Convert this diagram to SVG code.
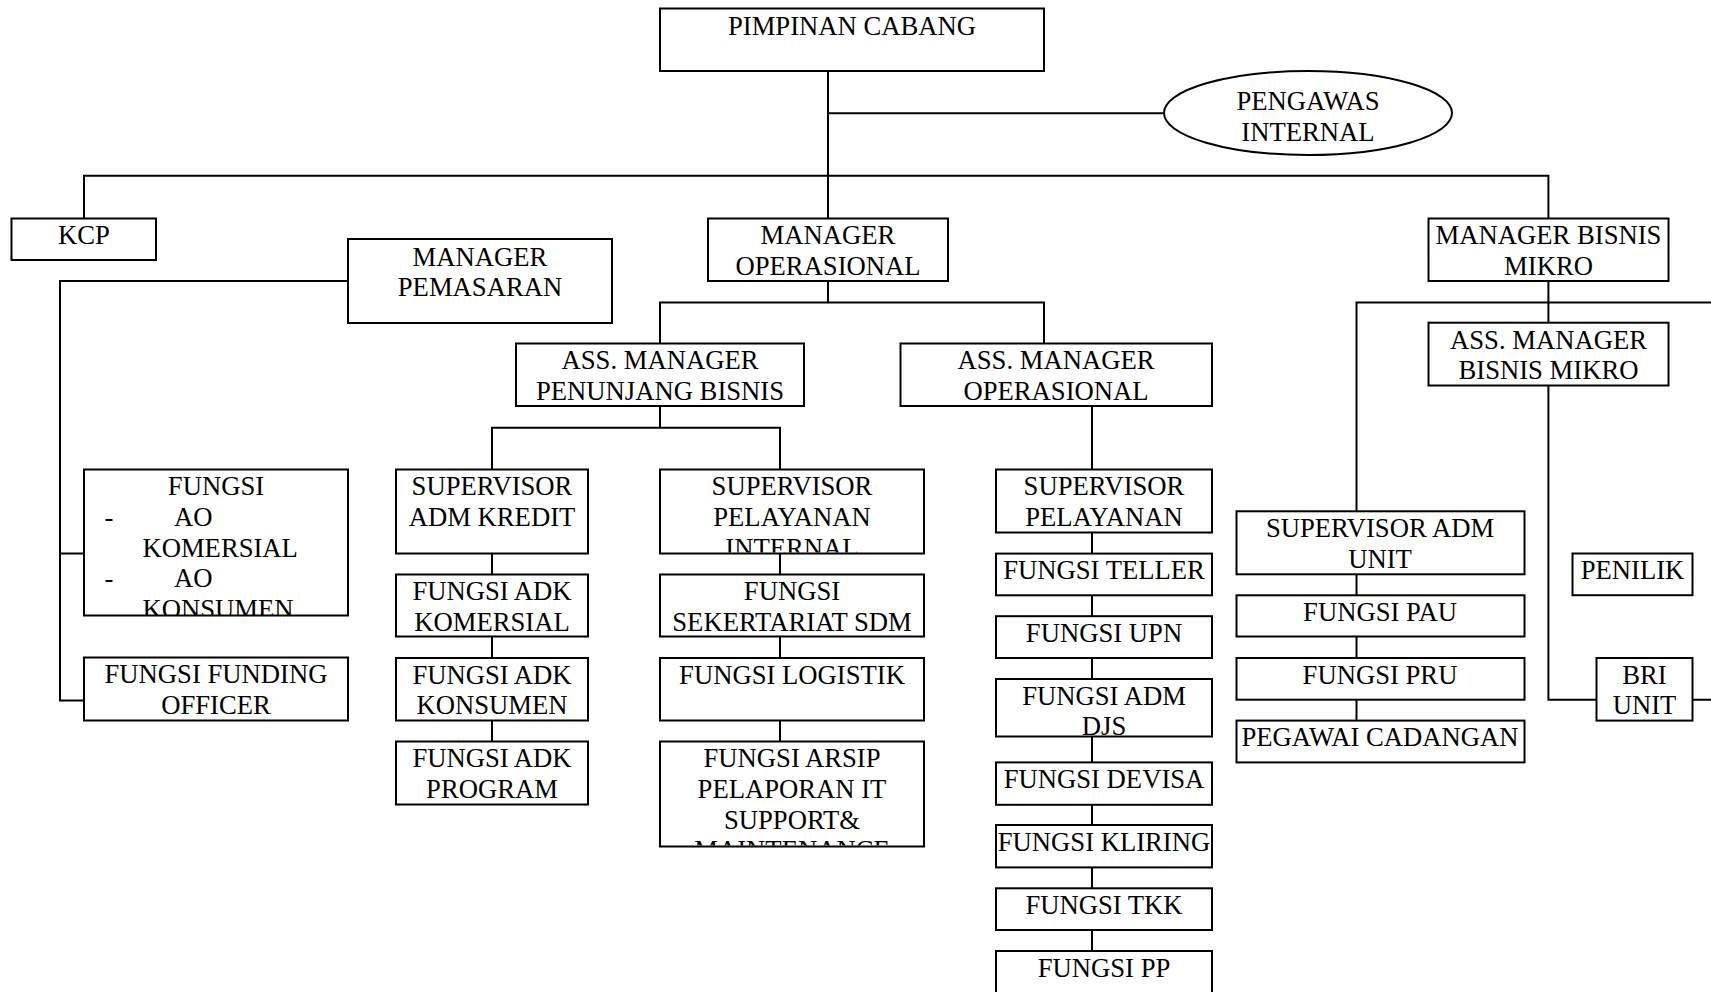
<svg xmlns="http://www.w3.org/2000/svg" width="1711" height="992" viewBox="0 0 1711 992">
<style>
.box{fill:#fff;stroke:#000;stroke-width:2}
.ln{fill:none;stroke:#000;stroke-width:2}
text{font-family:"Liberation Serif","Times New Roman",serif;font-size:26.67px;fill:#000}
.c{text-anchor:middle}
</style>
<defs>
<clipPath id="clipAO"><rect x="84" y="469.5" width="264" height="145.5"/></clipPath>
<clipPath id="clipSPI"><rect x="660" y="469.5" width="264" height="83"/></clipPath>
<clipPath id="clipARSIP"><rect x="660" y="741.5" width="264" height="104"/></clipPath>
<clipPath id="clipDJS"><rect x="996" y="679" width="216" height="57.5"/></clipPath>
</defs>
<rect width="1711" height="992" fill="#fff"/>
<g id="connectors">
<path class="ln" d="M828 71V218.5M828 113.2H1164M84 218.5V175.8H1548.4V218.5M348 281H60V700.4H84M60 553.6H84M828 281V302.4M660 343.5V302.4H1044V343.5M660 406V427.7M492 469.5V427.7H780V469.5M492 553.5V574.5M492 636.5V658M492 720.5V741.5M780 553.5V574.5M780 636.5V658M780 720.5V741.5M1092 406V469.5M1092 532.5V553.6M1092 595.3V616.2M1092 658V679M1092 736.5V762.4M1092 804.8V825M1092 867.4V888.3M1092 930V951M1548.4 281V322.7M1356.5 511.3V302.4H1711M1356.5 574.3V595.3M1356.5 636.5V658M1356.5 699.7V720.6M1548.4 385.5V699.7H1596.5M1692.5 699.7H1711"/>
</g>
<g id="pimpinan-cabang"><rect class="box" x="660" y="8.5" width="384" height="62.5"/><text class="c" x="852" y="35">PIMPINAN CABANG</text></g>
<g id="pengawas-internal"><ellipse class="box" cx="1308" cy="113" rx="144" ry="42"/><text class="c" x="1308" y="110">PENGAWAS</text><text class="c" x="1308" y="140.5">INTERNAL</text></g>
<g id="kcp"><rect class="box" x="11.5" y="218.5" width="144.5" height="41.5"/><text class="c" x="84" y="244.2">KCP</text></g>
<g id="manager-pemasaran"><rect class="box" x="348" y="239" width="264" height="84"/><text class="c" x="480" y="265.5">MANAGER</text><text class="c" x="480" y="296">PEMASARAN</text></g>
<g id="manager-operasional"><rect class="box" x="708" y="218.5" width="240" height="62.5"/><text class="c" x="828" y="244.2">MANAGER</text><text class="c" x="828" y="274.8">OPERASIONAL</text></g>
<g id="manager-bisnis-mikro"><rect class="box" x="1428.5" y="218.5" width="240" height="62.5"/><text class="c" x="1548.5" y="244.2">MANAGER BISNIS</text><text class="c" x="1548.5" y="274.8">MIKRO</text></g>
<g id="ass-manager-penunjang-bisnis"><rect class="box" x="516" y="343.5" width="288" height="62.5"/><text class="c" x="660" y="369.2">ASS. MANAGER</text><text class="c" x="660" y="399.9">PENUNJANG BISNIS</text></g>
<g id="ass-manager-operasional"><rect class="box" x="900.5" y="343.5" width="311.5" height="62.5"/><text class="c" x="1056" y="369.2">ASS. MANAGER</text><text class="c" x="1056" y="399.9">OPERASIONAL</text></g>
<g id="ass-manager-bisnis-mikro"><rect class="box" x="1428.5" y="322.7" width="240" height="62.8"/><text class="c" x="1548.5" y="348.5">ASS. MANAGER</text><text class="c" x="1548.5" y="379">BISNIS MIKRO</text></g>
<g id="fungsi-ao"><rect class="box" x="84" y="469.5" width="264" height="146"/><g clip-path="url(#clipAO)"><text class="c" x="216" y="495.2">FUNGSI</text><text x="104.5" y="525.9">-</text><text x="174" y="525.9">AO</text><text x="142.4" y="556.5">KOMERSIAL</text><text x="104.5" y="587.2">-</text><text x="174" y="587.2">AO</text><text x="142.4" y="617.9">KONSUMEN</text></g></g>
<g id="fungsi-funding-officer"><rect class="box" x="84" y="657.5" width="264" height="63"/><text class="c" x="216" y="683.2">FUNGSI FUNDING</text><text class="c" x="216" y="713.9">OFFICER</text></g>
<g id="supervisor-adm-kredit"><rect class="box" x="396" y="469.5" width="192" height="84"/><text class="c" x="492" y="495.2">SUPERVISOR</text><text class="c" x="492" y="525.9">ADM KREDIT</text></g>
<g id="fungsi-adk-komersial"><rect class="box" x="396" y="574.5" width="192" height="62"/><text class="c" x="492" y="600.2">FUNGSI ADK</text><text class="c" x="492" y="630.9">KOMERSIAL</text></g>
<g id="fungsi-adk-konsumen"><rect class="box" x="396" y="658" width="192" height="62.5"/><text class="c" x="492" y="683.7">FUNGSI ADK</text><text class="c" x="492" y="714.4">KONSUMEN</text></g>
<g id="fungsi-adk-program"><rect class="box" x="396" y="741.5" width="192" height="63"/><text class="c" x="492" y="767.2">FUNGSI ADK</text><text class="c" x="492" y="797.9">PROGRAM</text></g>
<g id="supervisor-pelayanan-internal"><rect class="box" x="660" y="469.5" width="264" height="84"/><g clip-path="url(#clipSPI)"><text class="c" x="792" y="495.2">SUPERVISOR</text><text class="c" x="792" y="525.9">PELAYANAN</text><text class="c" x="792" y="556.5">INTERNAL</text></g></g>
<g id="fungsi-sekertariat-sdm"><rect class="box" x="660" y="574.5" width="264" height="62"/><text class="c" x="792" y="600.2">FUNGSI</text><text class="c" x="792" y="630.9">SEKERTARIAT SDM</text></g>
<g id="fungsi-logistik"><rect class="box" x="660" y="658" width="264" height="62.5"/><text class="c" x="792" y="683.7">FUNGSI LOGISTIK</text></g>
<g id="fungsi-arsip"><rect class="box" x="660" y="741.5" width="264" height="105"/><g clip-path="url(#clipARSIP)"><text class="c" x="792" y="767.2">FUNGSI ARSIP</text><text class="c" x="792" y="797.9">PELAPORAN IT</text><text class="c" x="792" y="828.5">SUPPORT&amp;</text><text class="c" x="792" y="859.2">MAINTENANCE</text></g></g>
<g id="supervisor-pelayanan"><rect class="box" x="996" y="469.5" width="216" height="63"/><text class="c" x="1104" y="495.2">SUPERVISOR</text><text class="c" x="1104" y="525.9">PELAYANAN</text></g>
<g id="fungsi-teller"><rect class="box" x="996" y="553.6" width="216" height="41.7"/><text class="c" x="1104" y="579.3">FUNGSI TELLER</text></g>
<g id="fungsi-upn"><rect class="box" x="996" y="616.2" width="216" height="41.8"/><text class="c" x="1104" y="641.9">FUNGSI UPN</text></g>
<g id="fungsi-adm-djs"><rect class="box" x="996" y="679" width="216" height="57.5"/><g clip-path="url(#clipDJS)"><text class="c" x="1104" y="704.7">FUNGSI ADM</text><text class="c" x="1104" y="735.4">DJS</text></g></g>
<g id="fungsi-devisa"><rect class="box" x="996" y="762.4" width="216" height="42.4"/><text class="c" x="1104" y="788.1">FUNGSI DEVISA</text></g>
<g id="fungsi-kliring"><rect class="box" x="996" y="825" width="216" height="42.4"/><text class="c" x="1104" y="850.7">FUNGSI KLIRING</text></g>
<g id="fungsi-tkk"><rect class="box" x="996" y="888.3" width="216" height="41.7"/><text class="c" x="1104" y="914">FUNGSI TKK</text></g>
<g id="fungsi-pp"><rect class="box" x="996" y="951" width="216" height="60"/><text class="c" x="1104" y="976.7">FUNGSI PP</text></g>
<g id="supervisor-adm-unit"><rect class="box" x="1236.5" y="511.3" width="288" height="63"/><text class="c" x="1380" y="537">SUPERVISOR ADM</text><text class="c" x="1380" y="567.7">UNIT</text></g>
<g id="fungsi-pau"><rect class="box" x="1236.5" y="595.3" width="288" height="41.2"/><text class="c" x="1380" y="621">FUNGSI PAU</text></g>
<g id="fungsi-pru"><rect class="box" x="1236.5" y="658" width="288" height="41.7"/><text class="c" x="1380" y="683.7">FUNGSI PRU</text></g>
<g id="pegawai-cadangan"><rect class="box" x="1236.5" y="720.6" width="288" height="41.8"/><text class="c" x="1380" y="746.3">PEGAWAI CADANGAN</text></g>
<g id="penilik"><rect class="box" x="1572.5" y="553.5" width="120" height="41.7"/><text class="c" x="1632.5" y="579.2">PENILIK</text></g>
<g id="bri-unit"><rect class="box" x="1596.5" y="658" width="96" height="62.6"/><text class="c" x="1644.5" y="683.7">BRI</text><text class="c" x="1644.5" y="714.4">UNIT</text></g>
</svg>
